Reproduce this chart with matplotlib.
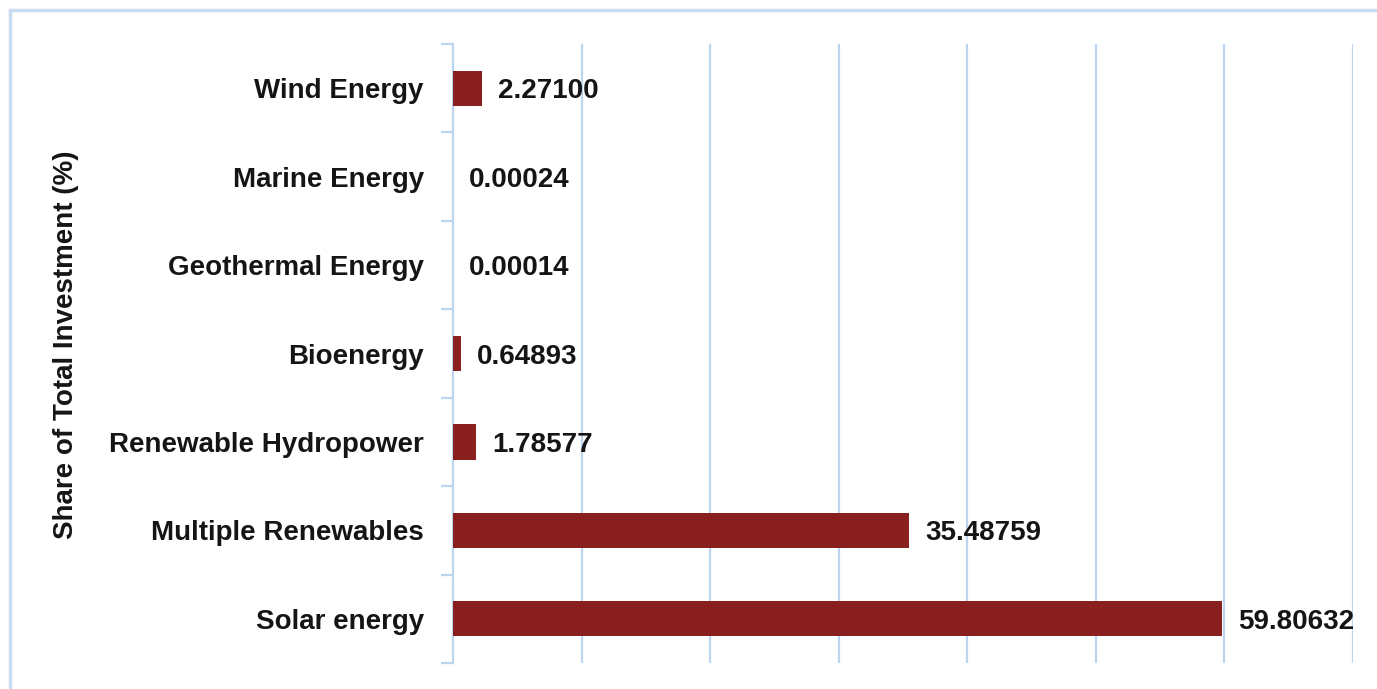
"""Horizontal bar chart of renewable investment shares by technology."""

import matplotlib.pyplot as plt
from matplotlib.patches import Rectangle

categories = [
    "Solar energy",
    "Multiple Renewables",
    "Renewable Hydropower",
    "Bioenergy",
    "Geothermal Energy",
    "Marine Energy",
    "Wind Energy",
]
shares = [59.80632, 35.48759, 1.78577, 0.64893, 0.00014, 0.00024, 2.27100]
value_labels = ["59.80632", "35.48759", "1.78577", "0.64893", "0.00014", "0.00024", "2.27100"]

GRID_BLUE = "#bcd6f0"
BAR_RED = "#8a1f1f"
TEXT = "#151515"

plt.rcParams["font.family"] = ["Liberation Sans", "DejaVu Sans"]
plt.rcParams["font.weight"] = "bold"

fig = plt.figure(figsize=(13.77, 6.89), dpi=100)

# light outer frame, its right and bottom edges run off the canvas
fig.patches.append(
    Rectangle((10 / 1377, -0.1), 1.2, 1 - 10 / 689 + 0.1,
              transform=fig.transFigure, fill=False,
              edgecolor="#c9dcf2", linewidth=2.5, zorder=0)
)

ax = fig.add_axes([453 / 1377, 1 - 663 / 689, 900 / 1377, 619 / 689])

ypos = list(range(len(categories)))
ax.barh(ypos, shares, height=0.4, color=BAR_RED, linewidth=0, zorder=3)

for y, v, lab in zip(ypos, shares, value_labels):
    ax.annotate(lab, xy=(v, y), xytext=(11.5, 0), textcoords="offset points",
                ha="left", va="center_baseline", fontsize=20, fontweight="bold",
                color=TEXT, zorder=4, annotation_clip=False)

ax.set_xlim(0, 70)
ax.set_ylim(-0.5, len(categories) - 0.5)
ax.set_xticks(range(10, 71, 10))
ax.xaxis.grid(True, color=GRID_BLUE, linewidth=1.6, zorder=0)
ax.tick_params(axis="x", length=0, labelbottom=False)

# category labels centred on bars, ticks on row boundaries
ax.set_yticks(ypos)
ax.set_yticklabels(categories, fontsize=20, fontweight="bold", color=TEXT)
ax.tick_params(axis="y", which="major", length=0, pad=21)
ax.set_yticks([i - 0.5 for i in range(len(categories) + 1)], minor=True)
ax.tick_params(axis="y", which="minor", length=9, width=1.6, color=GRID_BLUE)

for side in ("top", "right", "bottom"):
    ax.spines[side].set_visible(False)
ax.spines["left"].set_color(GRID_BLUE)
ax.spines["left"].set_linewidth(1.6)

fig.text(66 / 1377, 1 - 345 / 689, "Share of Total Investment (%)",
         rotation=90, ha="center", va="center", fontsize=20,
         fontweight="bold", color=TEXT)

fig.savefig("out.png", dpi=100, facecolor="white")
